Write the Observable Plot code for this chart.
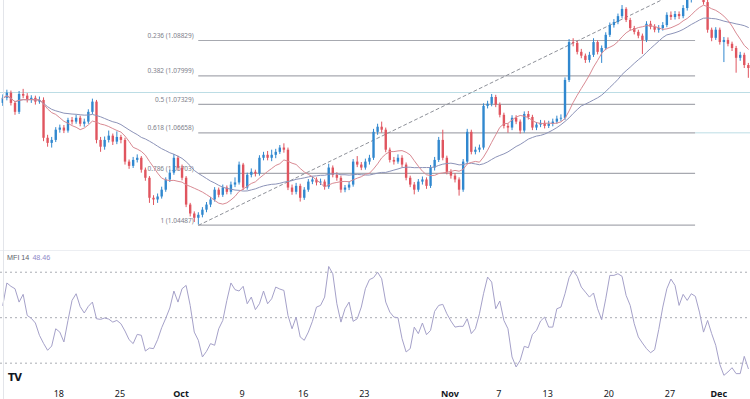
<!DOCTYPE html>
<html>
<head>
<meta charset="utf-8">
<script src="https://cdn.jsdelivr.net/npm/d3@7"></script>
<script src="https://cdn.jsdelivr.net/npm/@observablehq/plot@0.6"></script>
<style>
html,body{margin:0;padding:0;background:#fff;width:750px;height:399px;overflow:hidden;font-family:"Liberation Sans",Arial,sans-serif;}
#wrap{position:relative;width:750px;height:399px;}
#wrap svg{display:block;}
.vline{position:absolute;left:3px;top:0;width:1px;height:399px;background:#e3e5ea;}
.hsep{position:absolute;left:0;top:250px;width:750px;height:1px;background:#eceef2;}
.mfi-label{position:absolute;left:7px;top:253px;font-size:7.2px;color:#5d606b;white-space:nowrap;}
.mfi-label span{color:#8f88c8;margin-left:3px;}
.logo{position:absolute;left:8px;top:372px;font-size:10px;font-weight:900;color:#131722;letter-spacing:-0.6px;font-family:"DejaVu Sans",sans-serif;}
</style>
</head>
<body>
<div id="wrap"></div>
<script>
// ---- data (EUR/USD, 8h resolution, trading-day index 0 = Mon 18 Sep) ----
const firstDay = -4.583;
const candlesPerDay = 3;
const firstOpen = 1.0735;
const close = [
1.0747,1.0759,1.0735,1.0714,1.0756,1.0752,1.0742,1.0747,1.0738,1.0742,
1.0653,1.0641,1.0648,1.0672,1.0677,1.0670,1.0695,1.0691,1.0700,1.0686,
1.0691,1.0714,1.0738,1.0648,1.0632,1.0648,1.0658,1.0644,1.0655,1.0648,
1.0597,1.0587,1.0601,1.0606,1.0578,1.0559,1.0512,1.0508,1.0515,1.0531,
1.0555,1.0571,1.0606,1.0583,1.0559,1.0496,1.0475,1.0465,1.0472,1.0484,
1.0496,1.0508,1.0531,1.0519,1.0536,1.0526,1.0543,1.0548,1.0590,1.0536,
1.0566,1.0573,1.0569,1.0606,1.0613,1.0606,1.0613,1.0620,1.0630,1.0625,
1.0536,1.0526,1.0540,1.0512,1.0531,1.0550,1.0555,1.0548,1.0550,1.0538,
1.0583,1.0566,1.0559,1.0531,1.0536,1.0543,1.0597,1.0590,1.0583,1.0597,
1.0606,1.0667,1.0679,1.0672,1.0625,1.0601,1.0597,1.0606,1.0590,1.0559,
1.0543,1.0531,1.0550,1.0555,1.0540,1.0583,1.0601,1.0648,1.0606,1.0573,
1.0564,1.0555,1.0531,1.0597,1.0667,1.0620,1.0625,1.0630,1.0728,1.0733,
1.0749,1.0731,1.0707,1.0681,1.0677,1.0700,1.0691,1.0670,1.0709,1.0702,
1.0677,1.0684,1.0688,1.0681,1.0686,1.0691,1.0698,1.0700,1.0789,1.0878,
1.0876,1.0855,1.0846,1.0836,1.0848,1.0878,1.0855,1.0864,1.0895,1.0918,
1.0925,1.0939,1.0956,1.0930,1.0911,1.0902,1.0893,1.0883,1.0921,1.0914,
1.0907,1.0911,1.0918,1.0942,1.0937,1.0944,1.0939,1.0958,1.0977,1.0996,
1.1005,1.0989,1.0972,1.0907,1.0888,1.0907,1.0878,1.0883,1.0874,1.0864,
1.0841,1.0848,1.0824,1.0817];
const high = [
1.0755,1.0766,1.0764,1.0740,1.0763,1.0768,1.0758,1.0753,1.0752,1.0750,
1.0748,1.0660,1.0655,1.0678,1.0684,1.0683,1.0700,1.0702,1.0707,1.0705,
1.0698,1.0720,1.0745,1.0742,1.0655,1.0656,1.0670,1.0663,1.0668,1.0660,
1.0653,1.0602,1.0608,1.0614,1.0610,1.0583,1.0563,1.0518,1.0522,1.0538,
1.0560,1.0578,1.0615,1.0611,1.0590,1.0563,1.0500,1.0480,1.0478,1.0490,
1.0502,1.0514,1.0537,1.0536,1.0543,1.0541,1.0550,1.0560,1.0597,1.0594,
1.0571,1.0581,1.0578,1.0612,1.0620,1.0622,1.0625,1.0627,1.0636,1.0640,
1.0630,1.0543,1.0547,1.0545,1.0537,1.0556,1.0562,1.0560,1.0557,1.0555,
1.0592,1.0588,1.0572,1.0564,1.0542,1.0550,1.0603,1.0610,1.0596,1.0604,
1.0613,1.0674,1.0686,1.0691,1.0677,1.0630,1.0608,1.0614,1.0612,1.0595,
1.0564,1.0549,1.0556,1.0562,1.0560,1.0589,1.0608,1.0655,1.0672,1.0611,
1.0579,1.0570,1.0560,1.0603,1.0674,1.0672,1.0632,1.0637,1.0734,1.0740,
1.0756,1.0754,1.0736,1.0712,1.0687,1.0706,1.0706,1.0696,1.0715,1.0716,
1.0707,1.0690,1.0695,1.0694,1.0693,1.0698,1.0705,1.0708,1.0795,1.0885,
1.0887,1.0881,1.0862,1.0851,1.0855,1.0887,1.0882,1.0870,1.0901,1.0924,
1.0932,1.0945,1.0965,1.0960,1.0935,1.0916,1.0907,1.0898,1.0927,1.0928,
1.0920,1.0918,1.0925,1.0948,1.0950,1.0951,1.0950,1.0965,1.0984,1.1003,
1.1017,1.1010,1.0994,1.0977,1.0912,1.0913,1.0912,1.0890,1.0889,1.0879,
1.0869,1.0855,1.0853,1.0829];
const low = [
1.0728,1.0741,1.0729,1.0707,1.0709,1.0746,1.0736,1.0735,1.0731,1.0733,
1.0645,1.0632,1.0630,1.0643,1.0665,1.0664,1.0665,1.0684,1.0686,1.0680,
1.0679,1.0686,1.0709,1.0640,1.0620,1.0625,1.0642,1.0636,1.0638,1.0640,
1.0590,1.0580,1.0582,1.0595,1.0571,1.0552,1.0500,1.0495,1.0500,1.0510,
1.0526,1.0549,1.0566,1.0577,1.0553,1.0490,1.0468,1.0455,1.0449,1.0466,
1.0478,1.0490,1.0503,1.0513,1.0514,1.0520,1.0520,1.0537,1.0543,1.0530,
1.0531,1.0560,1.0562,1.0564,1.0600,1.0600,1.0598,1.0605,1.0615,1.0618,
1.0530,1.0519,1.0520,1.0503,1.0507,1.0526,1.0544,1.0541,1.0542,1.0531,
1.0533,1.0560,1.0552,1.0524,1.0525,1.0530,1.0538,1.0584,1.0577,1.0578,
1.0590,1.0601,1.0660,1.0665,1.0619,1.0595,1.0590,1.0592,1.0584,1.0553,
1.0537,1.0520,1.0526,1.0543,1.0533,1.0535,1.0576,1.0596,1.0600,1.0567,
1.0557,1.0548,1.0517,1.0526,1.0592,1.0614,1.0614,1.0619,1.0625,1.0722,
1.0727,1.0725,1.0701,1.0675,1.0665,1.0671,1.0685,1.0663,1.0665,1.0696,
1.0671,1.0671,1.0678,1.0675,1.0676,1.0680,1.0686,1.0692,1.0695,1.0784,
1.0868,1.0849,1.0840,1.0829,1.0830,1.0843,1.0849,1.0829,1.0859,1.0890,
1.0912,1.0920,1.0934,1.0925,1.0905,1.0896,1.0887,1.0850,1.0878,1.0908,
1.0901,1.0900,1.0905,1.0913,1.0930,1.0931,1.0932,1.0934,1.0952,1.0971,
1.0990,1.0983,1.0966,1.0900,1.0880,1.0883,1.0872,1.0831,1.0868,1.0857,
1.0806,1.0834,1.0817,1.0794];
const mfi = [
58.1,72.9,70.7,69.1,60.3,65.4,51.5,49.6,46.5,38.4,
33.1,28.5,31.3,42.7,40.5,34.0,48.2,61.4,65.8,57.3,
53.1,57.5,60.3,49.3,48.9,49.8,49.1,47.1,48.2,46.0,
41.2,35.5,32.9,39.0,38.4,28.0,30.0,29.6,35.5,43.4,
49.6,56.4,67.6,60.3,69.1,71.3,58.1,40.5,35.1,24.1,
27.8,32.9,31.8,42.7,48.2,61.4,72.9,68.5,67.6,70.7,
59.2,63.6,55.3,59.2,67.6,59.2,62.5,70.2,68.9,68.0,
51.5,42.7,50.4,37.3,35.1,40.5,47.6,57.0,58.1,63.6,
83.8,79.0,59.2,47.1,55.9,60.3,47.6,49.3,57.0,69.1,
75.1,76.4,80.0,75.7,60.3,53.7,50.4,50.0,36.2,27.4,
29.6,43.8,39.5,46.5,38.8,41.6,54.2,58.1,58.8,52.6,
47.8,43.8,44.3,44.3,49.3,39.5,42.7,52.6,65.8,76.8,
73.5,55.9,61.0,48.2,42.7,24.1,17.5,21.9,31.1,30.2,
39.0,41.6,47.8,50.4,43.8,43.8,55.9,57.0,65.8,76.4,
81.2,77.3,70.2,66.9,63.6,66.3,55.9,48.7,62.5,77.9,
77.9,79.0,77.3,64.7,58.1,46.0,37.3,33.3,29.6,26.9,
28.9,42.1,57.0,69.1,75.5,71.3,58.1,65.4,61.4,65.8,
64.1,53.7,40.5,48.2,39.5,31.8,19.2,12.0,14.2,17.0,
13.1,13.1,24.5,16.4];

// Fibonacci retracement (swing low -> swing high)
const lowDay = 11.45, lowPrice = 1.04487;
const highDay = 52.1, highPrice = 1.10170;
const fibLevels = [0.236, 0.382, 0.5, 0.618, 0.786, 1];
const fibPrices = [1.08829, 1.07999, 1.07329, 1.06658, 1.05703, 1.04487];
const supportLevels = [1.07606];
const mfiLevels = [80, 50, 20];
const mfiTitle = "MFI 14", mfiValue = "48.46";

// axis ticks (trading-day index)
const tickDays = [0, 5, 10, 15, 20, 25, 32, 36, 40, 45, 50, 54];
const tickLabels = ["18", "25", "Oct", "9", "16", "23", "Nov", "7", "13", "20", "27", "Dec"];
const monthLabels = ["Oct", "Nov", "Dec"];

// ---- build ----
const candles = close.map((c, i) => ({
  day: firstDay + i / candlesPerDay,
  open: i === 0 ? firstOpen : close[i - 1],
  close: c, high: high[i], low: low[i], mfi: mfi[i]
}));
const fibs = fibLevels.map((l, i) => ({level: l, price: fibPrices[i]}));
const ticks = tickDays.map((d, i) => ({day: d, label: tickLabels[i], month: monthLabels.includes(tickLabels[i])}));

const UP = "#3188cf", DOWN = "#e0555f";
const col = d => d.close >= d.open ? UP : DOWN;
const xDomain = [-4.77, 56.594];

const pricePlot = Plot.plot({
  width: 750, height: 250, margin: 0,
  style: {background: "transparent", overflow: "hidden"},
  x: {domain: xDomain, range: [0, 750], axis: null},
  y: {domain: [1.03892, 1.09769], range: [250, 0], axis: null},
  marks: [
    Plot.ruleY(supportLevels, {stroke: "#bcdde5", strokeWidth: 1}),
    Plot.ruleY([fibPrices[3]], {x1: highDay, x2: xDomain[1], stroke: "#bcdde5", strokeWidth: 1}),
    Plot.ruleY(fibs, {y: "price", x1: lowDay, x2: highDay, stroke: "#a7a9b0", strokeWidth: 1.2}),
    Plot.text(fibs, {x: lowDay, y: "price", text: d => `${d.level} (${d.price.toFixed(5)})`,
      textAnchor: "end", dx: -5, dy: -4.5, fontSize: 6.5, fill: "#7d808a"}),
    Plot.line([{d: lowDay, p: lowPrice}, {d: highDay, p: highPrice}],
      {x: "d", y: "p", stroke: "#8e9199", strokeWidth: 1, strokeDasharray: "3,3", clip: true}),
    Plot.ruleX(candles, {x: "day", y1: "low", y2: "high", stroke: col, strokeWidth: 1, clip: true}),
    Plot.ruleX(candles, {x: "day", y1: "open", y2: "close", stroke: col, strokeWidth: 2.4, clip: true}),
    Plot.lineY(candles, Plot.windowY({k: 25, anchor: "end", reduce: "mean"},
      {x: "day", y: "close", stroke: "#8c93b8", strokeWidth: 1, clip: true})),
    Plot.lineY(candles, Plot.windowY({k: 10, anchor: "end", reduce: "mean"},
      {x: "day", y: "close", stroke: "#d98a93", strokeWidth: 1, clip: true}))
  ]
});

const mfiPlot = Plot.plot({
  width: 750, height: 149, margin: 0,
  style: {background: "transparent", overflow: "hidden"},
  x: {domain: xDomain, range: [0, 750], axis: null},
  y: {domain: [0, 100], range: [143, -8.6], axis: null},
  marks: [
    Plot.ruleY(mfiLevels, {stroke: "#a9acb3", strokeWidth: 1, strokeDasharray: "2,3"}),
    Plot.line(candles, {x: "day", y: "mfi", stroke: "#a5a1c9", strokeWidth: 1}),
    Plot.text(ticks.filter(t => !t.month), {x: "day", text: "label", frameAnchor: "bottom",
      lineAnchor: "top", dy: -9, fontSize: 9, fill: "#131722"}),
    Plot.text(ticks.filter(t => t.month), {x: "day", text: "label", frameAnchor: "bottom",
      lineAnchor: "top", dy: -9, fontSize: 9, fontWeight: "bold", fill: "#131722"})
  ]
});

const wrap = document.getElementById("wrap");
wrap.appendChild(pricePlot);
wrap.appendChild(mfiPlot);
const sep = document.createElement("div"); sep.className = "hsep"; wrap.appendChild(sep);
const vl = document.createElement("div"); vl.className = "vline"; wrap.appendChild(vl);
const lab = document.createElement("div"); lab.className = "mfi-label";
lab.textContent = mfiTitle;
const sp = document.createElement("span"); sp.textContent = mfiValue; lab.appendChild(sp);
wrap.appendChild(lab);
const logo = document.createElement("div"); logo.className = "logo"; logo.textContent = "TV";
wrap.appendChild(logo);
</script>
</body>
</html>
